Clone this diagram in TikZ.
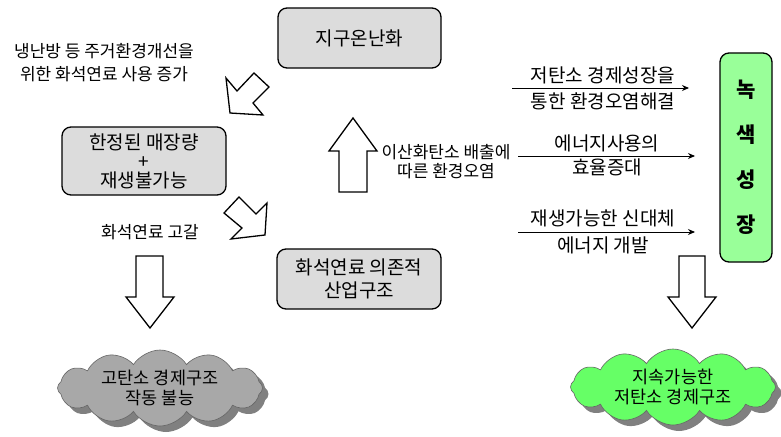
\documentclass[tikz,border=0pt]{standalone}
\usepackage{fontspec}
\setmainfont{Noto Sans CJK KR}
\usetikzlibrary{shapes.symbols,arrows.meta}
\definecolor{boxgray}{HTML}{DCDCDC}
\definecolor{greenbox}{HTML}{99FF99}
\definecolor{cloudgray}{HTML}{A8A8A8}
\definecolor{shadowgray}{HTML}{808080}
\definecolor{cloudgreen}{HTML}{66FF66}
\begin{document}
\begin{tikzpicture}[x=1pt,y=-1pt,
  box/.style={draw,line width=1.3pt,rounded corners=9pt,fill=boxgray,align=center,inner sep=0pt,font=\fontsize{19}{21}\selectfont},
  lbl/.style={align=center,inner sep=0pt,font=\fontsize{17}{21}\selectfont},
  alab/.style={align=center,inner sep=0pt,font=\fontsize{19}{20}\selectfont},
  hollow/.style={draw,line width=1.3pt,fill=white,line join=miter},
  conn/.style={line width=0.9pt,-{Stealth[length=7pt,width=6pt]}},
  cloudbase/.style={cloud,cloud puffs=12,cloud puff arc=115,cloud ignores aspect,minimum width=205pt,minimum height=76pt,inner sep=0pt},
  cloudtxt/.style={align=center,font=\fontsize{17.5}{20}\selectfont}]
\useasboundingbox (0,0) rectangle (781,436);

% boxes
\node[box,minimum width=163pt,minimum height=60pt] (warm) at (359.5,38) {지구온난화};
\node[box,minimum width=164pt,minimum height=68pt] (limit) at (144,161) {한정된 매장량\\[-2pt]+\\[-2pt]재생불가능};
\node[box,minimum width=164pt,minimum height=60pt,font=\fontsize{19}{23}\selectfont] (fossil) at (359,279) {화석연료 의존적\\산업구조};
\node[draw,line width=1.3pt,rounded corners=9pt,fill=greenbox,minimum width=52pt,minimum height=209pt,inner sep=0pt,align=center,font=\fontsize{21}{45}\selectfont\bfseries] (green) at (746,157.5) {녹\\색\\성\\장};

% free texts
\node[lbl,font=\fontsize{17}{23}\selectfont] (heat) at (104,63) {냉난방 등 주거환경개선을\\위한 화석연료 사용 증가};
\node[lbl,font=\fontsize{17}{19}\selectfont] (co2) at (446,162) {이산화탄소 배출에\\따른 환경오염};
\node[lbl] (deplete) at (150,232) {화석연료 고갈};

% hollow arrows
\draw[hollow] (226,78) -- (237,91) -- (254,73) -- (269,87) -- (253,103) -- (263,115) -- (230,113) -- cycle;
\draw[hollow] (224,213) -- (239,197) -- (256,214) -- (267,203) -- (265,235) -- (231,239) -- (242,228) -- cycle;
\draw[hollow] (339,192) -- (339,151) -- (329,151) -- (353,118) -- (377,151) -- (367,151) -- (367,192) -- cycle;
\draw[hollow] (136,256) -- (163,256) -- (163,297) -- (174,297) -- (150,328) -- (126,297) -- (136,297) -- cycle;
\draw[hollow] (679,256) -- (705,256) -- (705,297) -- (716,297) -- (692,328) -- (668,297) -- (679,297) -- cycle;

% connectors to green growth
\coordinate (a1s) at (512,88); \coordinate (a1e) at (689,88);
\coordinate (a2s) at (518,156); \coordinate (a2e) at (695,156);
\coordinate (a3s) at (518,232); \coordinate (a3e) at (695,232);
\draw[conn] (a1s) -- (a1e);
\draw[conn] (a2s) -- (a2e);
\draw[conn] (a3s) -- (a3e);
\node[alab] (t1a) at (603,75) {저탄소 경제성장을};
\node[alab] (t1b) at (603,101) {통한 환경오염해결};
\node[alab] (t2a) at (607,143) {에너지사용의};
\node[alab] (t2b) at (607,167) {효율증대};
\node[alab] (t3a) at (603,218) {재생가능한 신대체};
\node[alab] (t3b) at (603,245) {에너지 개발};

% clouds
\node[cloudbase,fill=shadowgray] (shadowL) at (166,394) {};
\node[cloudbase,fill=cloudgray,draw=black!60,line width=0.6pt] (cloudL) at (160,388) {};
\node[cloudtxt] (cloudLt) at (cloudL) {고탄소 경제구조\\작동 불능};
\node[cloudbase,fill=shadowgray] (shadowR) at (679,393) {};
\node[cloudbase,fill=cloudgreen,draw=black!60,line width=0.6pt] (cloudR) at (673,387) {};
\node[cloudtxt] (cloudRt) at (cloudR) {지속가능한\\저탄소 경제구조};
\end{tikzpicture}
\end{document}
